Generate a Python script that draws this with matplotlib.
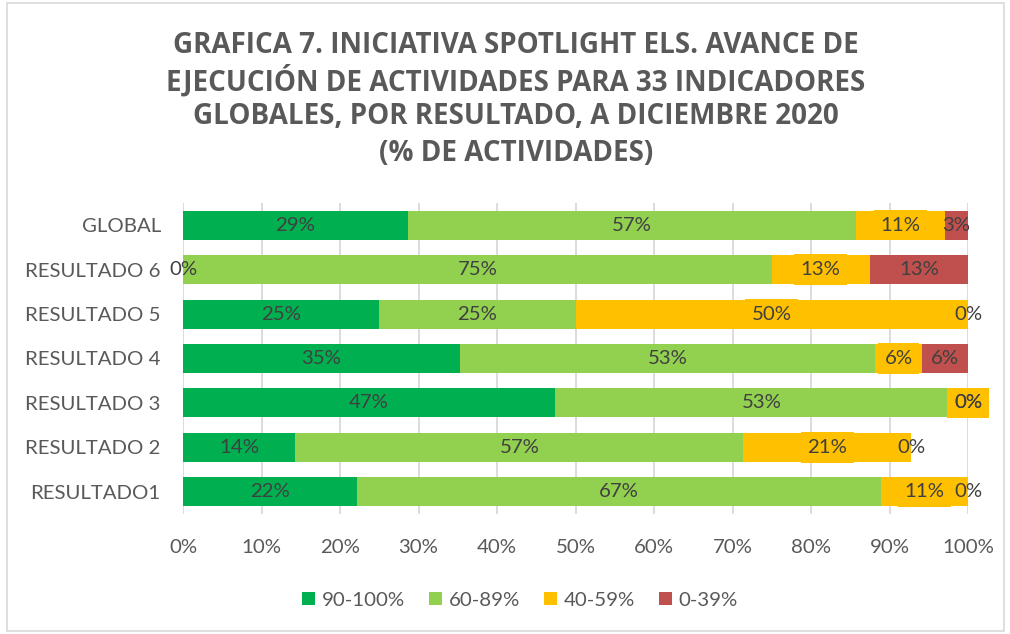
import matplotlib
matplotlib.use("Agg")
import matplotlib.pyplot as plt
from matplotlib.patches import Patch, Rectangle
import numpy as np

categories = ["GLOBAL", "RESULTADO 6", "RESULTADO 5", "RESULTADO 4",
              "RESULTADO 3", "RESULTADO 2", "RESULTADO1"]
series_names = ["90-100%", "60-89%", "40-59%", "0-39%"]
s_90_100 = [28.6, 0.0, 25.0, 35.3, 47.4, 14.3, 22.2]
s_60_89 = [57.1, 75.0, 25.0, 52.9, 52.6, 57.1, 66.7]
s_40_59 = [11.4, 12.5, 50.0, 5.9, 0.0, 21.4, 11.1]
s_0_39 = [2.9, 12.5, 0.0, 5.9, 0.0, 0.0, 0.0]
colors = ["#00B050", "#92D050", "#FFC000", "#C0504D"]
xticks = [0, 10, 20, 30, 40, 50, 60, 70, 80, 90, 100]

title_main = ("GRAFICA 7. INICIATIVA SPOTLIGHT ELS. AVANCE DE\n"
              "EJECUCIÓN DE ACTIVIDADES PARA 33 INDICADORES\n"
              "GLOBALES, POR RESULTADO, A DICIEMBRE 2020")
title_sub = "(% DE ACTIVIDADES)"

FONT = "Lato"
plt.rcParams["font.family"] = [FONT, "DejaVu Sans"]
FS = 14.7

W, H = 1010, 634
fig = plt.figure(figsize=(W / 100, H / 100), dpi=100)
ax = fig.add_axes([183 / W, 1 - 514 / H, 785 / W, 311 / H])

series = [s_90_100, s_60_89, s_40_59, s_0_39]
y = np.arange(len(categories))
left = np.zeros(len(categories))
for k, (vals, col) in enumerate(zip(series, colors)):
    vals = np.array(vals)
    ax.barh(y, vals, left=left, height=0.65, color=col, edgecolor="none", zorder=2)
    for i, v in enumerate(vals):
        lab = f"{int(v + 0.5)}%"
        kw = {}
        if k == 2:
            kw["bbox"] = dict(boxstyle="square,pad=0.33", fc=colors[2], ec="none")
        ax.text(left[i] + v / 2, y[i], lab, ha="center", va="center",
                fontsize=FS, color="#404040", zorder=5 + k, **kw)
    left = left + vals

ax.set_xlim(0, 100)
ax.set_ylim(len(categories) - 0.5, -0.5)
ax.set_xticks(xticks)
ax.set_xticklabels([f"{t}%" for t in xticks])
ax.set_yticks(y)
ax.set_yticklabels(categories)
ax.tick_params(axis="x", length=0, pad=18, labelsize=FS, labelcolor="#595959")
ax.tick_params(axis="y", length=0, pad=16, labelsize=FS, labelcolor="#595959")
for s in ax.spines.values():
    s.set_visible(False)
ax.grid(axis="x", color="#D9D9D9", linewidth=1.3, zorder=0)
ax.set_axisbelow(True)

tkw = dict(ha="center", va="center", fontsize=20, fontweight="bold",
           color="#595959", family=["Open Sans", "DejaVu Sans"])
fig.text(516 / W, 1 - 81 / H, title_main, linespacing=1.2, **tkw)
fig.text(516 / W, 1 - 153 / H, title_sub, **tkw)

handles = [Patch(facecolor=c, edgecolor="none") for c in colors]
fig.legend(handles, series_names, loc="center", ncol=4,
           bbox_to_anchor=(520 / W, 1 - 600 / H), frameon=False,
           fontsize=FS, labelcolor="#595959", handlelength=0.64, handleheight=0.64,
           handletextpad=0.3, columnspacing=1.2)

fig.add_artist(Rectangle((7 / W, 3 / H), 997 / W, 628 / H, transform=fig.transFigure,
                         fill=False, edgecolor="#D9D9D9", linewidth=1.2))

fig.savefig("out.png", dpi=100)
